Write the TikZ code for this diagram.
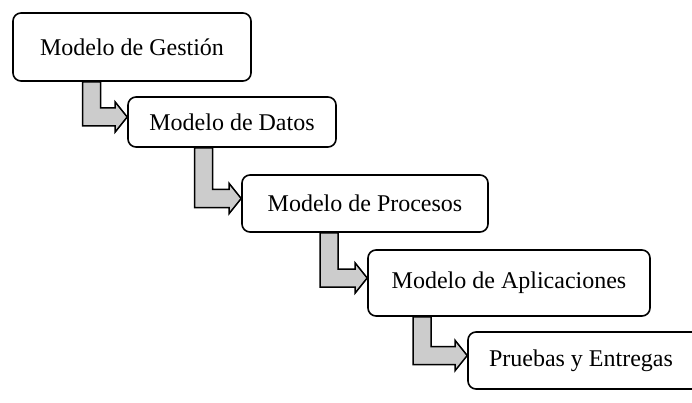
\documentclass[tikz,border=0pt]{standalone}
\usepackage{fontspec}
\setmainfont{Liberation Serif}
\usetikzlibrary{calc}

% bent block arrow from the bottom of #1 into the west side of #2,
% #3 = x of the shaft centre, measured from #1.south west
\newcommand{\flecha}[3]{%
  \draw[flechab] let \p1=(#1.south west), \p2=(#2.west),
        \n1={\x1+#3pt}, \n2={\y2+5pt} in
    (\n1-9pt,\y1) -- (\n1+9pt,\y1) -- (\n1+9pt,\n2+9pt) -- (\x2-12pt,\n2+9pt)
    -- (\x2-12pt,\n2+15pt) -- (\x2,\n2) -- (\x2-12pt,\n2-15pt)
    -- (\x2-12pt,\n2-9pt) -- (\n1-9pt,\n2-9pt) -- cycle;}

\begin{document}
\begin{tikzpicture}[x=1pt,y=-1pt,
  caja/.style={draw,fill=white,line width=1.6pt,rounded corners=8pt,
    font=\fontsize{24}{28}\selectfont,inner sep=0pt},
  flechab/.style={draw,fill=gray!40,line width=1.5pt,line join=miter}]
  \useasboundingbox (0,0) rectangle (692,403);
  % the five stages, each one a step down to the right
  \node[caja,minimum width=238pt,minimum height=68pt] (G) at (132,47)    {Modelo de Gestión};
  \node[caja,minimum width=208pt,minimum height=50pt] (D) at (232,122)   {Modelo de Datos};
  \node[caja,minimum width=246pt,minimum height=57pt] (P) at (365,203.5) {Modelo de Procesos};
  \node[caja,minimum width=282pt,minimum height=66pt] (A) at (509,283)   {Modelo de Aplicaciones};
  \node[caja,minimum height=57pt,text width=210pt,align=flush left,inner xsep=21pt] (E) at (594,360.5) {Pruebas y Entregas};
  \flecha{G}{D}{79.5}
  \flecha{D}{P}{76.5}
  \flecha{P}{A}{88}
  \flecha{A}{E}{55}
\end{tikzpicture}
\end{document}
